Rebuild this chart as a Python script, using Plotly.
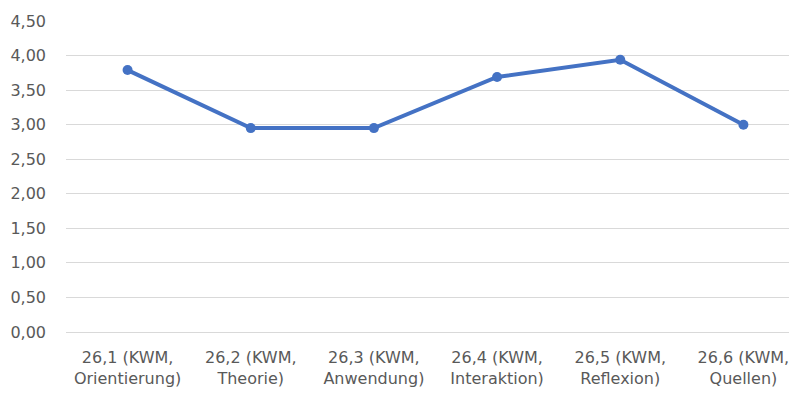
import plotly.graph_objects as go

categories = [
    "26,1 (KWM,<br>Orientierung)",
    "26,2 (KWM,<br>Theorie)",
    "26,3 (KWM,<br>Anwendung)",
    "26,4 (KWM,<br>Interaktion)",
    "26,5 (KWM,<br>Reflexion)",
    "26,6 (KWM,<br>Quellen)",
]
values = [3.79, 2.95, 2.95, 3.69, 3.94, 3.00]
y_ticks = [0, 0.5, 1, 1.5, 2, 2.5, 3, 3.5, 4, 4.5]

fig = go.Figure()
fig.add_trace(go.Scatter(
    x=list(range(len(categories))), y=values,
    mode='lines+markers',
    line=dict(color='#4472C4', width=4),
    marker=dict(color='#4472C4', size=10),
    showlegend=False,
    hoverinfo='y'
))

# page body has an 8px margin, so the figure is shifted; compensate in margins
fig.update_layout(
    width=797, height=397,
    margin=dict(l=58, r=0, t=13, b=73),
    paper_bgcolor='white',
    plot_bgcolor='white',
    separators=', ',
    font=dict(family='DejaVu Sans, sans-serif', size=16, color='#595959'),
    xaxis=dict(
        tickvals=list(range(len(categories))),
        ticktext=categories,
        range=[-0.5, 5.5],
        showgrid=False, zeroline=False, showline=False,
        ticks='', ticklabelstandoff=14, automargin=False,
    ),
    yaxis=dict(
        range=[0, 4.5],
        tickvals=y_ticks,
        tickformat='.2f',
        showgrid=True, gridcolor='#D9D9D9', gridwidth=1,
        zeroline=True, zerolinecolor='#D9D9D9', zerolinewidth=1,
        showline=False, ticks='', ticklabelstandoff=19, automargin=False,
    ),
)

fig.write_html("out.html")
